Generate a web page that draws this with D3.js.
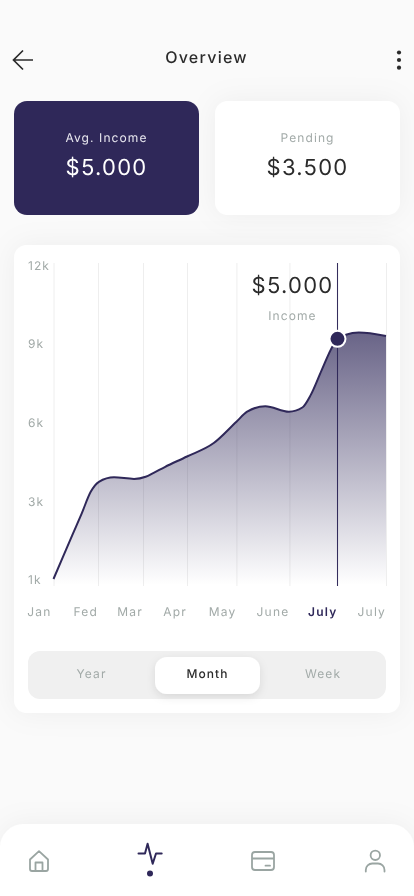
<!DOCTYPE html>
<html>
<head>
<meta charset="utf-8">
<script src="https://cdn.jsdelivr.net/npm/d3@7/dist/d3.min.js"></script>
<style>
html,body{margin:0;padding:0;background:#fafafa;overflow:hidden}
svg{display:block;will-change:transform}
text{font-family:Inter,Roboto,sans-serif;text-rendering:geometricPrecision}
</style>
</head>
<body>
<svg id="c" width="414" height="896"></svg>
<script>
// Chart data
const monthLabels = ["Jan","Fed","Mar","Apr","May","June","July","July"];
const monthTicks = [0,1,2.01,3,4.11,5.3,6.38,7.47];
const yTicks = [1,3,6,9,12];
const lineMonths = [0,0.21,0.42,0.63,0.836,1.02,1.36,1.81,2.07,2.25,2.5,3,3.6,4.11,4.35,4.76,5.29,5.59,5.78,6.02,6.27,6.38,6.57,6.86,7.47];
const lineValues = [1,1.56,2.12,2.67,3.35,3.73,3.9,3.84,3.92,4.07,4.29,4.69,5.2,6.01,6.39,6.6,6.39,6.55,7.03,7.95,8.88,9.16,9.32,9.4,9.27];
const selectedIndex = 6;
const selectedValue = 9.16;
const toggleLabels = ["Year","Month","Week"];

const navy = "#2f2859", grey = "#a2aaa8", dark = "#2b2b2b";
const svg = d3.select("#c");
const defs = svg.append("defs");

const shadow = defs.append("filter").attr("id","soft").attr("x","-30%").attr("y","-30%").attr("width","160%").attr("height","160%");
shadow.append("feDropShadow").attr("dx",0).attr("dy",0).attr("stdDeviation",14).attr("flood-color","#000").attr("flood-opacity",0.05);
const pill = defs.append("filter").attr("id","pill").attr("x","-30%").attr("y","-30%").attr("width","160%").attr("height","180%");
pill.append("feDropShadow").attr("dx",0).attr("dy",3).attr("stdDeviation",4).attr("flood-color","#000").attr("flood-opacity",0.1);

function txt(x,y,s,size,fill,ls,weight,anchor){
  return svg.append("text").attr("x",x).attr("y",y).text(s)
    .attr("font-size",size).attr("fill",fill)
    .attr("letter-spacing",ls).attr("font-weight",weight||400)
    .attr("text-anchor",anchor||"middle");
}
function card(x,y,w,h,r,fill,f){
  return svg.append("rect").attr("x",x).attr("y",y).attr("width",w).attr("height",h).attr("rx",r)
    .attr("fill",fill).attr("filter",f?`url(#${f})`:null);
}

// Header
txt(206.5,63,"Overview",16,dark,1.25,500);
svg.append("path").attr("d","M33 60H14M23 50.5L13.5 60L23 69.5").attr("fill","none").attr("stroke",dark).attr("stroke-width",1.7);
[52.5,60,67.7].forEach(y=>svg.append("circle").attr("cx",399).attr("cy",y).attr("r",2.1).attr("fill",dark));

// Summary cards
card(14,101,185,114,13,navy);
card(215,101,185,114,13,"#fff","soft");
txt(106.5,142,"Avg. Income",12,"#e9e8f0",1.1);
txt(106.5,175,"$5.000",22,"#fff",1.25);
txt(307.5,142,"Pending",12,grey,1.1);
txt(307.5,175,"$3.500",22,dark,1.25);

// Chart card
card(14,245,386,468,13,"#fff","soft");

const x = d3.scaleLinear().domain([0,monthTicks[7]]).range([53.5,386]);
const y = d3.scaleLinear().domain(yTicks).range([579,501,422,343,265]);
const baseY = 586, topY = 263;

const grad = defs.append("linearGradient").attr("id","area").attr("gradientUnits","userSpaceOnUse")
  .attr("x1",0).attr("x2",0).attr("y1",333).attr("y2",585);
grad.append("stop").attr("offset",0).attr("stop-color",navy).attr("stop-opacity",0.72);
grad.append("stop").attr("offset",1).attr("stop-color",navy).attr("stop-opacity",0);

const pts = lineMonths.map((m,i)=>[m,lineValues[i]]);

// X axis: grid lines and month labels
const xAxis = d3.axisBottom(x).tickValues(monthTicks).tickSize(0)
  .tickFormat((d,i)=>monthLabels[i]);
const xg = svg.append("g").attr("transform",`translate(0,${baseY})`).call(xAxis);
xg.select(".domain").remove();
xg.selectAll(".tick line").attr("y1",0).attr("y2",topY-baseY).attr("stroke","#eeeeee").attr("stroke-width",1);
xg.selectAll(".tick text")
  .attr("y",0).attr("dy",0)
  .attr("transform","translate(0,29.5)")
  .attr("x",(d,i)=>i===0?-2.5:-0.5)
  .attr("text-anchor","end")
  .attr("font-size",12).attr("letter-spacing",1.2)
  .attr("fill",(d,i)=>i===selectedIndex?navy:grey)
  .attr("font-weight",(d,i)=>i===selectedIndex?600:400);

// Y axis labels
const yAxis = d3.axisLeft(y).tickValues(yTicks).tickSize(0).tickFormat(d=>d+"k");
const yg = svg.append("g").attr("transform","translate(28,0)").call(yAxis);
yg.select(".domain").remove();
yg.selectAll(".tick text")
  .attr("x",0).attr("dy",4.5).attr("text-anchor","start")
  .attr("font-size",12).attr("letter-spacing",1)
  .attr("fill",grey);

// Area and line
svg.append("path").datum(pts).attr("fill","url(#area)")
  .attr("d",d3.area().curve(d3.curveMonotoneX).x(d=>x(d[0])).y0(baseY-1).y1(d=>y(d[1])));
svg.append("path").datum(pts).attr("fill","none").attr("stroke",navy).attr("stroke-width",2)
  .attr("d",d3.line().curve(d3.curveMonotoneX).x(d=>x(d[0])).y(d=>y(d[1])));

// Selected month marker
const sx = x(monthTicks[selectedIndex]);
svg.append("line").attr("x1",sx).attr("x2",sx).attr("y1",topY).attr("y2",baseY).attr("stroke",navy).attr("stroke-width",1);
svg.append("circle").attr("cx",sx).attr("cy",y(selectedValue)).attr("r",8).attr("fill",navy).attr("stroke","#fff").attr("stroke-width",2);

txt(292.5,293.3,"$5.000",22,dark,1.25);
txt(292.5,320,"Income",12,grey,1.1);

// Period toggle
card(28,651,358,48,12,"#f0f0f0");
card(155,657,105,37,12,"#fff","pill");
const toggleX = [91.5,207.5,323];
toggleLabels.forEach((s,i)=>txt(toggleX[i],677.5,s,12,i===1?dark:grey,1.1,i===1?500:400));

// Bottom navigation
svg.append("path").attr("d","M0 896V848a24 24 0 0 1 24-24H390a24 24 0 0 1 24 24V896Z").attr("fill","#fff").attr("filter","url(#soft)");
const iconGrey = "#9aa5a2";
const icon = d => svg.append("path").attr("d",d).attr("fill","none").attr("stroke",iconGrey).attr("stroke-width",1.8).attr("stroke-linejoin","round").attr("stroke-linecap","round");
icon("M30 859.5L39 851.2L48 859.5V869a2 2 0 0 1-2 2H32a2 2 0 0 1-2-2ZM35.5 871V862.5H42.5V871");
svg.append("path").attr("d","M138.5 853.5H145L147.6 843.8L152.7 863.8L156 853.5H161.7").attr("fill","none").attr("stroke",navy).attr("stroke-width",2).attr("stroke-linejoin","round").attr("stroke-linecap","round");
svg.append("circle").attr("cx",150).attr("cy",873.5).attr("r",3).attr("fill",navy);
icon("M255 852H271a3 3 0 0 1 3 3V867a3 3 0 0 1-3 3H255a3 3 0 0 1-3-3V855a3 3 0 0 1 3-3ZM252 858.5H274M265.5 865.7H270");
svg.append("circle").attr("cx",375.3).attr("cy",855.3).attr("r",4.7).attr("fill","none").attr("stroke",iconGrey).attr("stroke-width",1.8);
icon("M365.8 871.5V870a6.5 6.5 0 0 1 6.5-6.5H378a6.5 6.5 0 0 1 6.5 6.5V871.5");
</script>
</body>
</html>
